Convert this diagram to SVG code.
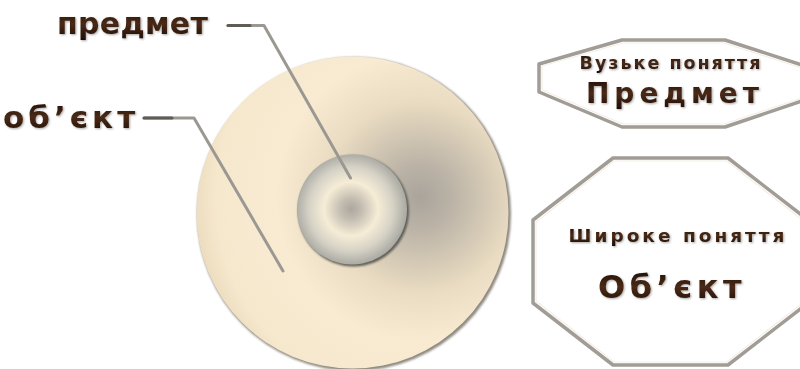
<svg xmlns="http://www.w3.org/2000/svg" width="800" height="369" viewBox="0 0 800 369">
<defs>
<radialGradient id="bigFill" gradientUnits="userSpaceOnUse" cx="420" cy="197" r="240">
<stop offset="0" stop-color="#aaa49c"/>
<stop offset="0.12" stop-color="#b9b1a5"/>
<stop offset="0.4" stop-color="#eadcc2"/>
<stop offset="0.6" stop-color="#f8ebd2"/>
<stop offset="0.85" stop-color="#f6e8cd"/>
<stop offset="1" stop-color="#e6d5b6"/>
</radialGradient>
<radialGradient id="smallFill" gradientUnits="userSpaceOnUse" cx="351" cy="209" r="56">
<stop offset="0" stop-color="#aea79f"/>
<stop offset="0.18" stop-color="#c2bbb0"/>
<stop offset="0.48" stop-color="#f6edd6"/>
<stop offset="0.75" stop-color="#d6d2c6"/>
<stop offset="1" stop-color="#a9a9a2"/>
</radialGradient>
<linearGradient id="txt" x1="0" y1="0" x2="0" y2="1">
<stop offset="0" stop-color="#1c0c04"/>
<stop offset="0.5" stop-color="#4a2a16"/>
<stop offset="1" stop-color="#1c0c04"/>
</linearGradient>
<filter id="soft" x="-10%" y="-10%" width="120%" height="120%">
<feGaussianBlur stdDeviation="1.2"/>
</filter>
<filter id="tshadow" x="-5%" y="-20%" width="110%" height="150%">
<feGaussianBlur in="SourceAlpha" stdDeviation="0.8"/>
<feOffset dx="1" dy="1" result="b"/>
<feFlood flood-color="#000" flood-opacity="0.35"/>
<feComposite in2="b" operator="in"/>
<feMerge><feMergeNode/><feMergeNode in="SourceGraphic"/></feMerge>
</filter>
</defs>
<style>
.lbl{font-family:"DejaVu Sans",Verdana,sans-serif;font-weight:bold;fill:url(#txt);filter:url(#tshadow)}
.oct{fill:#ffffff;stroke:#a19c95;stroke-width:3.5;stroke-linejoin:round}
.octhi{fill:none;stroke:#f4efe6;stroke-width:1.2;stroke-linejoin:round}
.conn{fill:none;stroke-width:3;stroke-linecap:round;stroke-linejoin:round}
</style>
<g id="object-circle">
<circle cx="354" cy="214" r="157" fill="#8f8a80" filter="url(#soft)"/>
<circle cx="352.5" cy="212.5" r="156" fill="url(#bigFill)"/>
</g>
<g id="subject-circle">
<circle cx="353.5" cy="211" r="55.5" fill="#5f5e58" filter="url(#soft)"/>
<circle cx="352" cy="209.5" r="55" fill="url(#smallFill)"/>
</g>
<g id="connectors">
<path class="conn" d="M228,25.5 L264,25.5 L350.5,178" stroke="#9b9892"/>
<path class="conn" d="M228,25.5 L250,25.5" stroke="#5f5c58"/>
<path class="conn" d="M144,118 L194,118 L283,271" stroke="#9b9892"/>
<path class="conn" d="M144,118 L172,118" stroke="#5f5c58"/>
</g>
<g id="label-predmet">
<text class="lbl" x="57" y="34" font-size="30" letter-spacing="0.3">предмет</text>
</g>
<g id="label-obiekt">
<text class="lbl" x="3" y="128" font-size="31" letter-spacing="4">об’єкт</text>
</g>
<g id="box-narrow">
<polygon class="oct" points="622,40 725,40 805,66 805,100 725,127 622,127 539,92 539,64"/>
<polygon class="octhi" points="623,43 724,43 802,68 802,98 724,124 623,124 542,90 542,66"/>
<text class="lbl" x="671" y="69" font-size="17.5" letter-spacing="2" text-anchor="middle">Вузьке поняття</text>
<text class="lbl" x="675" y="103" font-size="28" letter-spacing="5" text-anchor="middle">Предмет</text>
</g>
<g id="box-wide">
<polygon class="oct" points="613,158 728,158 808,220 808,303 728,365 613,365 533,303 533,220"/>
<polygon class="octhi" points="614,161 727,161 805,222 805,301 727,362 614,362 536,301 536,222"/>
<text class="lbl" x="678" y="242" font-size="18.5" letter-spacing="3" text-anchor="middle">Широке поняття</text>
<text class="lbl" x="672" y="298" font-size="32" letter-spacing="4.5" text-anchor="middle">Об’єкт</text>
</g>
</svg>
